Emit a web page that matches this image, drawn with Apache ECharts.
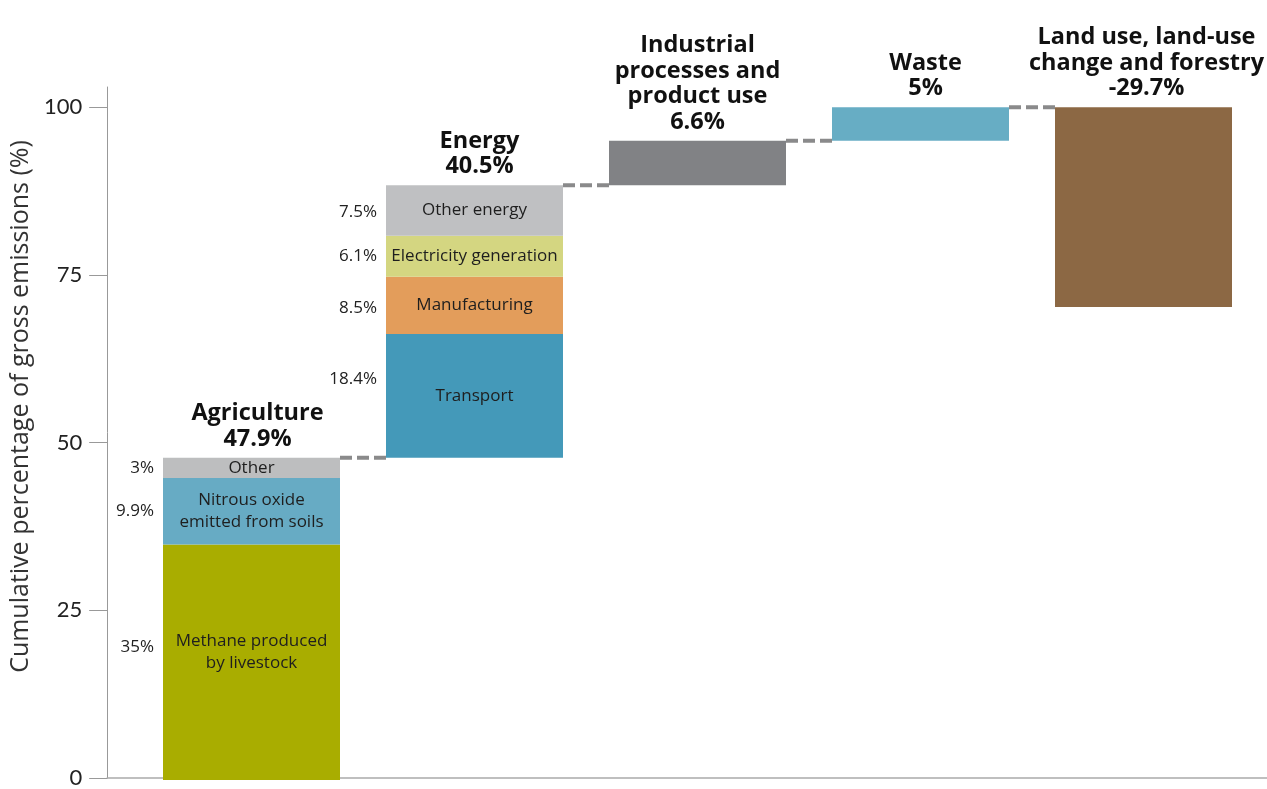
<!DOCTYPE html>
<html><head><meta charset="utf-8">
<script src="https://cdn.jsdelivr.net/npm/echarts@6/dist/echarts.min.js"></script>
<style>html,body{margin:0;padding:0;background:#fff}#c{width:1267px;height:789px}</style>
</head><body><div id="c"></div>
<script>
// ---- data ----
const categories = ['Agriculture', 'Energy', 'Industrial processes and product use', 'Waste', 'Land use, land-use change and forestry'];
const categoryTitles = ['Agriculture\n47.9%', 'Energy\n40.5%', 'Industrial\nprocesses and\nproduct use\n6.6%', 'Waste\n5%', 'Land use, land-use\nchange and forestry\n-29.7%'];
const agricultureParts = ['Methane produced\nby livestock', 'Nitrous oxide\nemitted from soils', 'Other'];
const agricultureValues = [35, 9.9, 3];
const energyParts = ['Transport', 'Manufacturing', 'Electricity generation', 'Other energy'];
const energyValues = [18.4, 8.5, 6.1, 7.5];
const industrialValues = [6.6];
const wasteValues = [5];
const landUseValues = [-29.7];
const yTicks = [0, 25, 50, 75, 100];

// ---- styles ----
const segmentColors = ['#a9ad00', '#67abc4', '#bdbebf', '#4499b9', '#e39d5b', '#d4d681', '#bfc0c2', '#818285', '#67adc4', '#8c6844'];
const nameShift = [-10, 0, 0, 0, 0, 0, 0, 0, 0, 0];
const pctShift = [-15, 0, 0, -17, 3, 0, 2, 0, 0, 0];
const titleShiftX = [6, 5, 0, 5, 3];
const BAR_W = 177;
const FONT = '"Open Sans", Lato, sans-serif';
const TICK_FONT = 'Lato, "Open Sans", sans-serif';

// ---- build segments ----
const groups = [
  [agricultureParts, agricultureValues],
  [energyParts, energyValues],
  [[''], industrialValues],
  [[''], wasteValues],
  [[''], landUseValues]
];
const segData = [];
const connectorData = [];
const titleData = [];
let cum = 0;
groups.forEach(([names, vals], ci) => {
  let top = cum;
  vals.forEach((v, k) => {
    const start = cum, end = cum + v;
    segData.push({ value: [ci, start, end], name: names[k], pct: names[k] ? (v + '%') : '' });
    cum = end;
    top = Math.max(top, start, end);
  });
  titleData.push({ value: [ci, top], title: categoryTitles[ci] });
  if (ci < groups.length - 1) connectorData.push([ci, cum]);
});

const chart = echarts.init(document.getElementById('c'));
chart.setOption({
  animation: false,
  grid: [
    { left: 140, right: 12, top: 87, bottom: 9 },
    { left: 105, right: 0, top: 87, bottom: 9 }
  ],
  xAxis: [
    { type: 'category', gridIndex: 0, data: categories, show: false },
    { type: 'value', gridIndex: 1, min: 0, max: 1, axisLine: { show: true, lineStyle: { color: '#aaaaaa', width: 1.5 } },
      axisTick: { show: false }, axisLabel: { show: false }, splitLine: { show: false } }
  ],
  yAxis: [
    { type: 'value', gridIndex: 0, min: 0, max: 103, show: false },
    { type: 'value', gridIndex: 1, min: 0, max: 103,
      name: 'Cumulative percentage of gross emissions (%)', nameLocation: 'middle', nameGap: 62,
      nameTextStyle: { fontSize: 25, color: '#333', fontFamily: FONT, padding: [0, 0, 0, 52] },
      axisLine: { show: true, lineStyle: { color: '#999' } },
      axisTick: { show: true, length: 18, lineStyle: { color: '#999' }, customValues: yTicks },
      axisLabel: { customValues: yTicks, fontSize: 22, color: '#222', fontFamily: TICK_FONT, margin: 25 },
      splitLine: { show: false } }
  ],
  series: [
    {
      type: 'custom', xAxisIndex: 0, yAxisIndex: 0, clip: false,
      encode: { x: 0, y: [1, 2] },
      data: segData,
      renderItem(params, api) {
        const i = params.dataIndex;
        const d = segData[i];
        const cat = api.value(0), s = api.value(1), e = api.value(2);
        const p0 = api.coord([cat, s]), p1 = api.coord([cat, e]);
        const top = Math.min(p0[1], p1[1]), h = Math.abs(p0[1] - p1[1]);
        const cy = top + h / 2;
        const children = [{ type: 'rect', shape: { x: p0[0] - BAR_W / 2, y: top, width: BAR_W, height: h }, style: { fill: segmentColors[i] } }];
        if (d.name) {
          children.push({ type: 'text', silent: true, x: p0[0], y: cy + nameShift[i],
            style: { text: d.name, align: 'center', verticalAlign: 'middle', fontSize: 17, lineHeight: 22, fill: '#1e1e1e', fontFamily: FONT } });
          children.push({ type: 'text', silent: true, x: p0[0] - BAR_W / 2 - 9, y: cy + pctShift[i],
            style: { text: d.pct, align: 'right', verticalAlign: 'middle', fontSize: 17, fill: '#222', fontFamily: FONT } });
        }
        return { type: 'group', children };
      }
    },
    {
      type: 'custom', xAxisIndex: 0, yAxisIndex: 0, clip: false,
      encode: { x: 0, y: 1 },
      data: connectorData,
      renderItem(params, api) {
        const p = api.coord([api.value(0), api.value(1)]);
        const band = api.size([1, 0])[0];
        return { type: 'line', shape: { x1: p[0] + BAR_W / 2, y1: p[1], x2: p[0] + band - BAR_W / 2, y2: p[1] },
          style: { stroke: '#8a8a8b', lineWidth: 4, lineDash: [12, 5] } };
      }
    },
    {
      type: 'custom', xAxisIndex: 0, yAxisIndex: 0, clip: false,
      encode: { x: 0, y: 1 },
      data: titleData,
      renderItem(params, api) {
        const p = api.coord([api.value(0), api.value(1)]);
        return { type: 'text', silent: true, x: p[0] + titleShiftX[params.dataIndex], y: p[1] - 6,
          style: { text: titleData[params.dataIndex].title, align: 'center', verticalAlign: 'bottom', fontSize: 23.5, fontWeight: 'bold', lineHeight: 25.5, fill: '#111', fontFamily: FONT } };
      }
    }
  ]
});
</script>
</body></html>
